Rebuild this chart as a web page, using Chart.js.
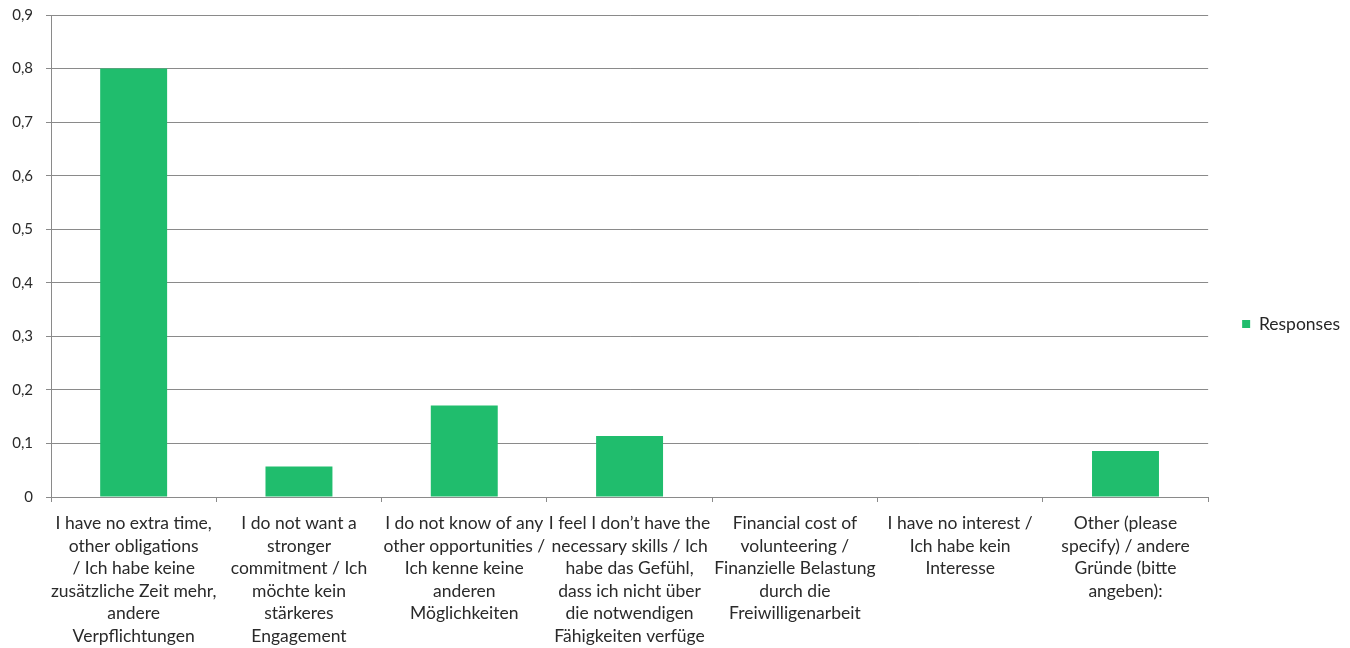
<!DOCTYPE html>
<html>
<head>
<meta charset="utf-8">
<script src="https://cdn.jsdelivr.net/npm/chart.js@4"></script>
<style>
  html, body { margin: 0; padding: 0; background: #fff; }
  #wrap { width: 1350px; height: 648px; }
</style>
</head>
<body>
<div id="wrap"><canvas id="c" width="1350" height="648"></canvas></div>
<script>
const categories = [
  ["I have no extra time,", "other obligations", "/ Ich habe keine", "zusätzliche Zeit mehr,", "andere", "Verpflichtungen"],
  ["I do not want a", "stronger", "commitment / Ich", "möchte kein", "stärkeres", "Engagement"],
  ["I do not know of any", "other opportunities /", "Ich kenne keine", "anderen", "Möglichkeiten"],
  ["I feel I don’t have the", "necessary skills / Ich", "habe das Gefühl,", "dass ich nicht über", "die notwendigen", "Fähigkeiten verfüge"],
  ["Financial cost of", "volunteering /", "Finanzielle Belastung", "durch die", "Freiwilligenarbeit"],
  ["I have no interest /", "Ich habe kein", "Interesse"],
  ["Other (please", "specify) / andere", "Gründe (bitte", "angeben):"]
];
const seriesName = "Responses";
const responses = [0.8, 0.057, 0.171, 0.114, 0, 0, 0.086];
const yTicks = ["0", "0,1", "0,2", "0,3", "0,4", "0,5", "0,6", "0,7", "0,8", "0,9"];

const FONT = "Lato, 'Open Sans', sans-serif";
const GRID = "#8a8a8a";

new Chart(document.getElementById("c"), {
  type: "bar",
  data: {
    labels: categories,
    datasets: [{
      label: seriesName,
      data: responses,
      backgroundColor: "#20bd6d",
      borderWidth: 0,
      categoryPercentage: 1,
      barPercentage: 0.405
    }]
  },
  options: {
    responsive: false,
    animation: false,
    layout: { padding: { top: 0, right: 0, left: 0, bottom: 0 } },
    plugins: {
      legend: {
        position: "right",
        labels: {
          boxWidth: 8,
          boxHeight: 8,
          padding: 34,
          color: "#262626",
          font: { family: FONT, size: 17.5 }
        }
      },
      tooltip: { enabled: false }
    },
    scales: {
      x: {
        grid: { drawOnChartArea: false, drawTicks: true, tickLength: 5, color: GRID, offset: true },
        border: { color: GRID, width: 1 },
        ticks: {
          maxRotation: 0,
          autoSkip: false,
          padding: 10,
          color: "#2a2a2a",
          font: { family: FONT, size: 17.5, lineHeight: 1.29 }
        },
        afterFit: (s) => { s.height = 151; }
      },
      y: {
        min: 0,
        max: 0.9,
        grid: { color: GRID, tickLength: 5 },
        border: { color: GRID, width: 1 },
        ticks: {
          stepSize: 0.1,
          padding: 13,
          color: "#2a2a2a",
          font: { family: FONT, size: 15 },
          callback: (v, i) => yTicks[i]
        },
        afterFit: (s) => { s.width = 51; s.paddingTop = 15; }
      }
    }
  }
});
</script>
</body>
</html>
